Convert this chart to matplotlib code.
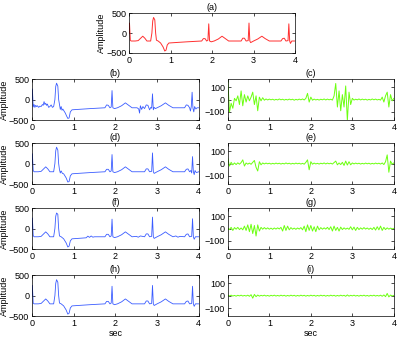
import numpy as np
import matplotlib
matplotlib.use("Agg")
import matplotlib.pyplot as plt

plt.rcParams['font.family'] = ['Liberation Sans', 'DejaVu Sans']
plt.rcParams['font.size'] = 6.5

# clean ECG (panels a and h)
ecg_t = [0.00, 0.01, 0.03, 0.05, 0.15, 0.22, 0.28, 0.33, 0.38, 0.43,
         0.52, 0.55, 0.57, 0.59, 0.62, 0.64, 0.66, 0.70, 0.76, 0.82,
         0.86, 0.89, 0.92, 0.96, 1.10, 1.40, 1.75, 1.79, 1.83, 1.87,
         1.90, 1.92, 1.94, 1.98, 2.05, 2.15, 2.24, 2.32, 2.40, 2.70,
         2.74, 2.78, 2.82, 2.87, 2.89, 2.91, 2.93, 3.00, 3.10, 3.20,
         3.28, 3.38, 3.66, 3.70, 3.74, 3.78, 3.83, 3.85, 3.87, 3.89,
         3.92, 4.00]
ecg_v = [0, 250, -180, -200, -200, -190, -130, -80, -130, -200,
         -200, 0, 300, 390, 330, 0, -180, -200, -250, -350,
         -450, -430, -300, -250, -240, -220, -200, -140, -140, -200,
         -180, 230, -200, -220, -200, -150, -80, -140, -200, -200,
         -130, -130, -200, -190, 250, -200, -240, -200, -150, -80,
         -140, -200, -200, -140, -130, -200, -190, 230, -200, -260,
         -200, -200]

# noisy signal (b)
b_t = [0.00, 0.01, 0.03, 0.05, 0.07, 0.09, 0.11, 0.13, 0.16, 0.19,
       0.22, 0.25, 0.27, 0.29, 0.31, 0.33, 0.35, 0.37, 0.40, 0.43,
       0.46, 0.49, 0.52, 0.55, 0.57, 0.59, 0.62, 0.64, 0.66, 0.68,
       0.70, 0.72, 0.74, 0.77, 0.80, 0.83, 0.86, 0.89, 0.92, 0.96,
       1.10, 1.40, 1.75, 1.79, 1.83, 1.87, 1.90, 1.92, 1.94, 1.98,
       2.05, 2.15, 2.24, 2.32, 2.40, 2.52, 2.56, 2.58, 2.60, 2.63,
       2.66, 2.70, 2.74, 2.78, 2.82, 2.85, 2.87, 2.89, 2.91, 2.93,
       2.96, 3.00, 3.10, 3.20, 3.28, 3.38, 3.66, 3.70, 3.74, 3.78,
       3.80, 3.82, 3.84, 3.86, 3.88, 3.90, 3.93, 3.96, 4.00]
b_v = [0, 260, -180, -120, -190, -140, -170, -150, -190, -160,
       -170, -120, -140, -50, -120, -90, -140, -110, -190, -170,
       -130, -190, -170, 0, 320, 400, 330, 0, -120, -240,
       -170, -260, -230, -280, -330, -400, -460, -450, -300, -250,
       -240, -220, -200, -130, -140, -200, -180, 220, -200, -220,
       -200, -150, -80, -140, -200, -200, -230, -330, -150, -240,
       -170, -220, -130, -140, -250, -190, -210, 140, -250, -190,
       -220, -200, -150, -80, -140, -200, -200, -130, -140, -200,
       -280, -170, 180, -210, -300, -170, -230, -200, -200]

# denoised (d)
d_t = [0.00, 0.01, 0.03, 0.05, 0.15, 0.22, 0.28, 0.33, 0.38, 0.43,
       0.52, 0.55, 0.57, 0.59, 0.62, 0.64, 0.66, 0.68, 0.70, 0.73,
       0.76, 0.82, 0.86, 0.89, 0.92, 0.96, 1.10, 1.40, 1.75, 1.79,
       1.83, 1.87, 1.90, 1.92, 1.94, 1.98, 2.05, 2.15, 2.24, 2.32,
       2.40, 2.70, 2.74, 2.78, 2.82, 2.87, 2.89, 2.91, 2.93, 3.00,
       3.10, 3.20, 3.28, 3.38, 3.66, 3.70, 3.74, 3.78, 3.81, 3.83,
       3.85, 3.87, 3.89, 3.91, 3.94, 4.00]
d_v = [0, 240, -170, -200, -200, -190, -130, -80, -130, -200,
       -200, 0, 310, 400, 330, 0, -150, -230, -180, -240,
       -250, -350, -450, -440, -300, -250, -240, -220, -200, -140,
       -140, -200, -180, 220, -200, -220, -200, -150, -80, -140,
       -200, -200, -130, -130, -200, -190, 260, -200, -240, -200,
       -150, -80, -140, -200, -200, -140, -130, -200, -170, -230,
       170, -200, -270, -170, -220, -200]

# denoised (f)
f_t = [0.00, 0.01, 0.03, 0.05, 0.15, 0.22, 0.28, 0.33, 0.38, 0.43,
       0.52, 0.55, 0.57, 0.59, 0.62, 0.64, 0.66, 0.70, 0.76, 0.82,
       0.86, 0.89, 0.92, 0.96, 1.10, 1.30, 1.34, 1.38, 1.42, 1.46,
       1.50, 1.75, 1.79, 1.83, 1.87, 1.90, 1.92, 1.94, 1.98, 2.05,
       2.15, 2.24, 2.32, 2.40, 2.50, 2.55, 2.60, 2.70, 2.74, 2.78,
       2.82, 2.87, 2.89, 2.91, 2.93, 3.00, 3.10, 3.20, 3.28, 3.38,
       3.45, 3.50, 3.55, 3.66, 3.70, 3.74, 3.78, 3.83, 3.85, 3.87,
       3.89, 3.92, 4.00]
f_v = [0, 260, -170, -200, -200, -190, -130, -80, -130, -200,
       -200, 0, 300, 380, 350, 0, -180, -200, -250, -350,
       -450, -430, -300, -250, -240, -225, -185, -215, -180, -210,
       -200, -200, -140, -140, -200, -180, 230, -200, -220, -200,
       -150, -80, -140, -200, -190, -210, -180, -200, -130, -130,
       -200, -190, 280, -200, -240, -200, -150, -80, -140, -200,
       -180, -210, -190, -200, -140, -130, -200, -190, 240, -200,
       -260, -200, -200]

# residuals (c, e, g, i), sampled every 0.04 s
noise_c = [150, -100, -30, -70, 10, -10, 30, -40, 70, -50,
           40, -20, 30, -10, 20, 60, -40, 30, -90, 20,
           -10, 15, -5, 5, -3, 4, -2, 3, -4, 2,
           -3, 5, -2, 3, -4, 2, -3, 4, -2, 3,
           -5, 2, -3, 4, -2, 5, -3, 10, 50, -20,
           20, -5, 4, -3, 2, -4, 3, -2, 5, -3,
           4, -2, 3, -4, 30, 130, -60, 70, -90, 40,
           -60, 110, -170, 60, -40, 10, -4, 3, -2, 5,
           -3, 4, -2, 3, -4, 2, -3, 5, -2, 4,
           -3, 2, -4, 20, -20, 30, 60, -60, 40, -10,
           10]
noise_e = [40, -20, 10, -10, 5, -8, 6, -5, 8, 30,
           -20, 5, -5, 4, -6, 10, 25, -30, -60, 15,
           -10, 5, -3, 4, -2, 3, -4, 2, -3, 4,
           -2, 3, -4, 2, -3, 5, -2, 3, -4, 2,
           -3, 4, -2, 3, -4, 2, -5, 10, 30, -50,
           15, -5, 4, -3, 2, -4, 3, -2, 5, -3,
           4, -2, 3, -4, 8, 20, -10, 5, -8, 10,
           -15, 20, -12, 15, -10, 5, -3, 4, -2, 3,
           -4, 2, -3, 4, -2, 3, -4, 2, -3, 4,
           -2, 3, -4, 5, -8, 15, 70, -70, 20, -5,
           5]
noise_g = [5, -8, 10, -15, 8, -5, 10, -8, 5, -10,
           20, -15, 30, -25, 35, -40, 25, -60, 30, -20,
           10, -5, 8, -4, 6, -5, 4, -6, 5, -4,
           6, -3, 10, -20, 25, -15, 20, -10, 8, -5,
           4, -6, 5, -4, 8, -10, 20, -25, 30, -15,
           25, -20, 15, -25, 20, -10, 8, -5, 6, -4,
           10, -8, 15, -20, 20, -15, 10, -20, 12, -8,
           6, -5, 4, -6, 15, -10, 12, -15, 10, -8,
           6, -5, 8, -4, 5, -6, 4, -8, 10, -12,
           15, -10, 20, -15, 10, -8, 6, -5, 4, -3,
           2]
noise_i = [3, -2, 4, -3, 2, -4, 3, -2, 4, -3,
           2, -3, 4, -5, 8, -20, 10, -8, 5, -4,
           3, -2, 4, -3, 2, -4, 3, -2, 4, -3,
           2, -3, 4, -2, 3, -4, 2, -3, 4, -2,
           3, -4, 2, -3, 4, -2, 3, -4, 2, -3,
           4, -2, 3, -4, 2, -3, 4, -2, 3, -4,
           2, -3, 4, -2, 3, -4, 2, -3, 4, -2,
           3, -5, 6, -4, 3, -2, 4, -3, 2, -4,
           3, -2, 4, -3, 2, -4, 3, -2, 4, -3,
           2, -3, 4, -5, 6, -8, 18, -10, 5, -3,
           2]
noise_t = np.linspace(0, 4, len(noise_c))

red = '#ff3030'
blue = '#3a5cff'
green = '#6cff10'

fig = plt.figure(figsize=(4.15, 3.44), dpi=100)


def style(ax, left_col=True):
    ax.set_xlim(0, 4)
    ax.set_xticks([0, 1, 2, 3, 4])
    if left_col:
        ax.set_ylim(-500, 500)
        ax.set_yticks([-500, 0, 500])
    else:
        ax.set_ylim(-165, 165)
        ax.set_yticks([-100, 0, 100])
    ax.tick_params(direction='in', length=2, width=0.5, pad=2,
                   top=True, right=True, labelsize=6.5)
    for s in ax.spines.values():
        s.set_linewidth(0.5)


ax = fig.add_axes([0.311, 0.846, 0.400, 0.116])
ax.plot(ecg_t, ecg_v, color=red, lw=0.7)
style(ax)
ax.set_title('(a)', fontsize=6.5, pad=2)
ax.set_ylabel('Amplitude', fontsize=6.5, labelpad=0)

bottoms = [0.651, 0.465, 0.276, 0.081]
left_data = [(b_t, b_v), (d_t, d_v), (f_t, f_v), (ecg_t, ecg_v)]
right_data = [noise_c, noise_e, noise_g, noise_i]
left_titles = ['(b)', '(d)', '(f)', '(h)']
right_titles = ['(c)', '(e)', '(g)', '(i)']

for k in range(4):
    axl = fig.add_axes([0.077, bottoms[k], 0.402, 0.119])
    axl.plot(left_data[k][0], left_data[k][1], color=blue, lw=0.6)
    style(axl)
    axl.set_title(left_titles[k], fontsize=6.5, pad=2)
    axl.set_ylabel('Amplitude', fontsize=6.5, labelpad=0)

    axr = fig.add_axes([0.549, bottoms[k], 0.400, 0.119])
    axr.plot(noise_t, right_data[k], color=green, lw=0.7)
    style(axr, left_col=False)
    axr.set_title(right_titles[k], fontsize=6.5, pad=2)
    if k == 3:
        axl.set_xlabel('sec', fontsize=6.5, labelpad=1)
        axr.set_xlabel('sec', fontsize=6.5, labelpad=1)

fig.savefig('out.png', dpi=100)
